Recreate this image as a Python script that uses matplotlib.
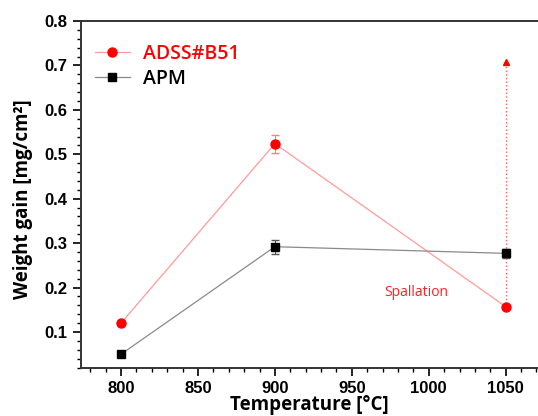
import matplotlib
matplotlib.use("Agg")
from matplotlib import pyplot as plt
from matplotlib.ticker import MultipleLocator

temps = [800, 900, 1050]
adss = [0.12, 0.524, 0.157]
adss_err = [0.0, 0.02, 0.0]
apm = [0.05, 0.292, 0.277]
apm_err = [0.0, 0.016, 0.01]
spall_top = 0.708

plt.rcParams['font.family'] = ['Liberation Sans', 'DejaVu Sans']

fig = plt.figure(figsize=(5.38, 4.16), dpi=100)
ax = fig.add_axes([0.1506, 0.1154, 0.8494, 0.8341])

ax.errorbar(temps, adss, yerr=adss_err, color='#ff9a9a', lw=0.9, elinewidth=0.8,
            capsize=3, ecolor='#ff8080', marker='o', ms=6.5, mfc='#ff0000', mec='#ff0000',
            zorder=3)
ax.errorbar(temps, apm, yerr=apm_err, color='#8a8a8a', lw=0.9, elinewidth=0.8,
            capsize=3, ecolor='#555555', marker='s', ms=5.5, mfc='black', mec='black',
            zorder=3)
# legend handles without error bars
h1, = ax.plot([], [], color='#ff9a9a', lw=0.9, marker='o', ms=6.5, mfc='#ff0000',
              mec='#ff0000', label='ADSS#B51')
h2, = ax.plot([], [], color='#8a8a8a', lw=0.9, marker='s', ms=5.5, mfc='black',
              mec='black', label='APM')

# spallation arrow
ax.plot([temps[2], temps[2]], [adss[2], spall_top], color='#ff6060', lw=1, ls=':', zorder=2)
ax.plot(temps[2], spall_top, marker='^', color='#ff0000', ms=5, zorder=3)
ax.text(992, 0.19, 'Spallation', color='#ff2020', fontsize=10, family='Open Sans',
        ha='center', va='center')

ax.set_xlim(774, 1071)
ax.set_ylim(0.019, 0.8)
ax.xaxis.set_major_locator(MultipleLocator(50))
ax.xaxis.set_minor_locator(MultipleLocator(10))
ax.yaxis.set_major_locator(MultipleLocator(0.1))
ax.yaxis.set_minor_locator(MultipleLocator(0.02))
ax.tick_params(which='major', direction='out', length=6, width=1.2, labelsize=12)
ax.tick_params(axis='x', which='major', pad=3.5)
ax.tick_params(which='minor', direction='out', length=3, width=1)
for lab in ax.get_xticklabels() + ax.get_yticklabels():
    lab.set_fontweight('bold')
ax.spines['right'].set_visible(False)
for s in ['left', 'bottom', 'top']:
    ax.spines[s].set_linewidth(1.4)
    ax.spines[s].set_color('#333333')

ax.set_xlabel('Temperature [°C]', fontsize=13.5, fontweight='bold',
              family='Open Sans', va='center')
ax.xaxis.set_label_coords(0.5, -0.108)
ax.set_ylabel('Weight gain [mg/cm²]', fontsize=13.5, fontweight='bold',
              family='Open Sans', va='center')
ax.yaxis.set_label_coords(-0.127, 0.487)

leg = ax.legend(handles=[h1, h2], loc='upper left', bbox_to_anchor=(-0.008, 0.985), frameon=False,
                prop={'family': 'Open Sans', 'weight': 'semibold', 'size': 14},
                handlelength=1.8, handletextpad=0.7, labelspacing=0.25)
leg.get_texts()[0].set_color('#ff0000')

fig.savefig('out.png', dpi=100)
